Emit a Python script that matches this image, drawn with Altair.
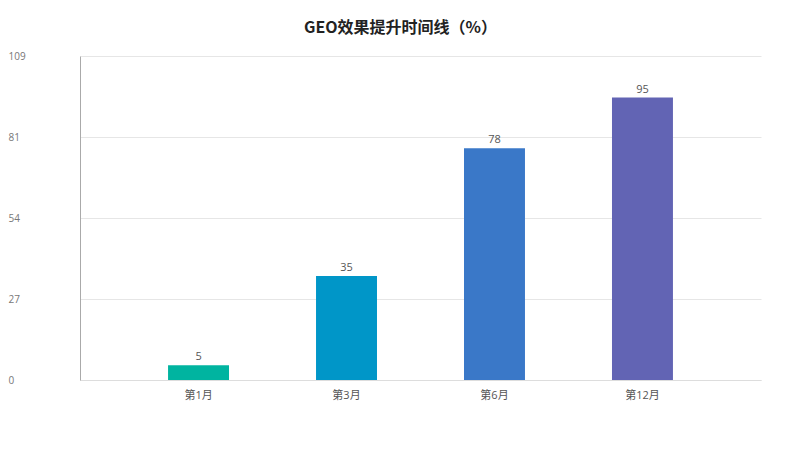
import altair as alt
import pandas as pd

categories = ["第1月", "第3月", "第6月", "第12月"]
values = [5, 35, 78, 95]
colors = ["#00B4A0", "#0096C8", "#3A78C8", "#6264B4"]
y_ticks = [0, 27.25, 54.5, 81.75, 109]

df = pd.DataFrame({"cat": categories, "val": values, "color": colors})

FONT = "Open Sans, Noto Sans CJK SC"
TFONT = "Noto Sans CJK SC"

x_enc = alt.X("cat:N", sort=categories, title=None,
              scale=alt.Scale(paddingInner=0.588, paddingOuter=0.595),
              axis=alt.Axis(labelAngle=0, ticks=False, tickSize=0, labelPadding=9,
                            labelFontSize=11, labelColor="#555555", labelFont=FONT,
                            domainColor="#DDDDDD", grid=False))
y_enc = alt.Y("val:Q", title=None,
              scale=alt.Scale(domain=[0, 109], nice=False),
              axis=alt.Axis(values=y_ticks, labelExpr="floor(datum.value)",
                            ticks=False, tickSize=0, labelAlign="left", labelPadding=72,
                            labelFontSize=10, labelColor="#777777", labelFont=FONT,
                            domainColor="#AAAAAA", gridColor="#E6E6E6"))

bars = alt.Chart(df).mark_bar().encode(
    x=x_enc, y=y_enc,
    color=alt.Color("color:N", scale=None),
)
labels = alt.Chart(df).mark_text(dy=-8, fontSize=11, color="#555555", font=FONT).encode(
    x=alt.X("cat:N", sort=categories), y="val:Q", text="val:Q"
)

chart = (bars + labels).properties(
    width=681, height=324,
    background="white",
    autosize=alt.AutoSizeParams(type="none"),
    padding={"left": 72, "top": 48, "right": 31, "bottom": 62},
    title=alt.TitleParams("GEO效果提升时间线（%）", font=TFONT, fontSize=16, fontWeight="bold",
                          color="#222222", anchor="middle", dx=-20, offset=15),
).configure_view(stroke=None)

chart.save("out.html", embed_options={"renderer": "svg", "actions": False})
